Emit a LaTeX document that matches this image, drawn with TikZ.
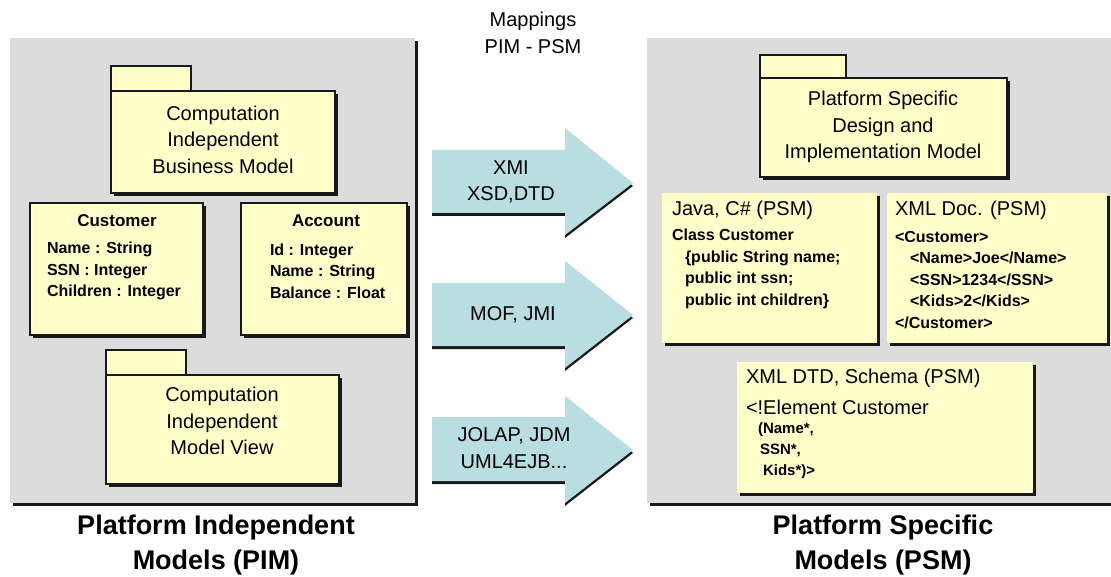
\documentclass[tikz,border=0pt]{standalone}
\usepackage{fontspec}
\setmainfont{Liberation Sans}
\usetikzlibrary{shadows}

\definecolor{panelgray}{RGB}{220,220,220}
\definecolor{noteyellow}{RGB}{255,255,202}
\definecolor{mapblue}{RGB}{185,222,225}
\definecolor{shade}{RGB}{25,25,25}

\tikzset{
  shade3/.style={drop shadow={shadow xshift=3pt, shadow yshift=-3pt, opacity=1, fill=shade}},
  panel/.style={fill=panelgray, inner sep=0, outer sep=0, shade3},
  pkgbody/.style={draw=shade, line width=1.3pt, fill=noteyellow, inner sep=0, outer sep=0, shade3},
  pkgtab/.style={draw=shade, line width=1.3pt, fill=noteyellow, inner sep=0, outer sep=0,
    minimum width=80pt, minimum height=25pt, anchor=south west},
  classbox/.style={draw=shade, line width=1.3pt, fill=noteyellow, inner sep=0, outer sep=0, shade3},
  notebox/.style={fill=noteyellow, inner sep=0, outer sep=0, shade3},
  mapping/.style={fill=mapblue, drop shadow={shadow xshift=0pt, shadow yshift=-3pt, opacity=1, fill=shade}},
  txt/.style={inner sep=0, outer sep=0, font=\fontsize{20}{26.5}\selectfont},
  bold/.style={inner sep=0, outer sep=0, font=\fontsize{16}{21.5}\selectfont\bfseries},
  title/.style={inner sep=0, outer sep=0, align=center, font=\fontsize{27}{35}\selectfont\bfseries}
}

\begin{document}
\begin{tikzpicture}[x=1pt, y=-1pt]
  \useasboundingbox (0,0) rectangle (1111,577);

  \node [panel, minimum width=405pt, minimum height=465pt] (pim) at (212.5,270.5) {};
  \node [panel, minimum width=464pt, minimum height=465pt] (psm) at (879,270.5) {};

  \node [txt, align=center] (maptitle) at (533,33) {Mappings\\PIM - PSM};

  \fill [mapping] (432,150) -- ++(133,0) -- ++(0,-22) -- ++(68,55) -- ++(-68,52) -- ++(0,-22) -- ++(-133,0) -- cycle;
  \fill [mapping] (432,283) -- ++(133,0) -- ++(0,-22) -- ++(68,54) -- ++(-68,53) -- ++(0,-22) -- ++(-133,0) -- cycle;
  \fill [mapping] (432,417) -- ++(133,0) -- ++(0,-21) -- ++(68,54) -- ++(-68,53) -- ++(0,-22) -- ++(-133,0) -- cycle;
  \node [txt, align=center] (xmi) at (511,182) {XMI\\XSD,DTD};
  \node [txt] (mof) at (513,315) {MOF, JMI};
  \node [txt, align=center] (jolap) at (514,448) {JOLAP, JDM\\UML4EJB...};

  % PIM side
  \node [pkgbody, minimum width=224pt, minimum height=102pt] (cibm) at (223,142) {};
  \node [pkgtab] (cibmtab) at (cibm.north west) {};
  \node [txt, align=center] (cibmtext) at (223,139.5) {Computation\\Independent\\Business Model};

  \node [classbox, minimum width=173pt, minimum height=132pt] (customer) at (116.5,269) {};
  \node [bold, font=\fontsize{17}{21.5}\selectfont\bfseries] (customername) at (117,221) {Customer};
  \node [bold, align=left, anchor=west] (customerattr) at (47,271) {Name : String\\SSN : Integer\\Children : Integer};

  \node [classbox, minimum width=166pt, minimum height=132pt] (account) at (324,269) {};
  \node [bold, font=\fontsize{17}{21.5}\selectfont\bfseries] (accountname) at (326,221) {Account};
  \node [bold, align=left, anchor=west] (accountattr) at (270,271) {Id : Integer\\Name : String\\Balance : Float};

  \node [pkgbody, minimum width=233pt, minimum height=109pt] (cimv) at (222.5,429.5) {};
  \node [pkgtab] (cimvtab) at (cimv.north west) {};
  \node [txt, align=center] (cimvtext) at (222,421) {Computation\\Independent\\Model View};

  \node [title] (pimtitle) at (216,545) {Platform Independent\\Models (PIM)};

  % PSM side
  \node [pkgbody, minimum width=247pt, minimum height=99pt] (psdim) at (883.5,127.5) {};
  \node [pkgtab, minimum width=86pt, minimum height=23pt] (psdimtab) at (psdim.north west) {};
  \node [txt, align=center] (psdimtext) at (883,127) {Platform Specific\\Design and\\Implementation Model};

  \node [notebox, minimum width=215pt, minimum height=150pt] (java) at (769.5,268) {};
  \node [txt, anchor=west] (javatitle) at (672,210) {Java, C\# (PSM)};
  \node [bold, align=left, anchor=west] (javacode) at (672,269) {Class Customer\\
    \hspace*{13pt}\{public String name;\\
    \hspace*{13pt}public int ssn;\\
    \hspace*{13pt}public int children\}};

  \node [notebox, minimum width=220pt, minimum height=150pt] (xmldoc) at (997,268) {};
  \node [txt, anchor=west] (xmldoctitle) at (895,210) {XML Doc. (PSM)};
  \node [bold, align=left, anchor=west] (xmldoccode) at (895,280) {<Customer>\\
    \hspace*{15pt}<Name>Joe</Name>\\
    \hspace*{15pt}<SSN>1234</SSN>\\
    \hspace*{15pt}<Kids>2</Kids>\\
    </Customer>};

  \node [notebox, minimum width=296pt, minimum height=131pt] (xmldtd) at (885,427.5) {};
  \node [txt, anchor=west] (xmldtdtitle) at (746,378) {XML DTD, Schema (PSM)};
  \node [txt, anchor=west] (xmldtdelem) at (746,407) {<!Element Customer};
  \node [bold, align=left, anchor=west, font=\fontsize{15}{21}\selectfont\bfseries] (xmldtdcode) at (758,451) {(Name*,\\
    \hspace*{2pt}SSN*,\\
    \hspace*{5pt}Kids*)>};

  \node [title] (psmtitle) at (883,545) {Platform Specific\\Models (PSM)};
\end{tikzpicture}
\end{document}
